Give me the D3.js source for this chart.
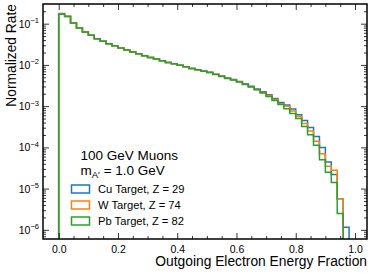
<!DOCTYPE html>
<html>
<head>
<meta charset="utf-8">
<script src="https://cdn.jsdelivr.net/npm/d3@7"></script>
<style>
  body { margin: 0; background: #fff; }
  svg { display: block; font-family: "Liberation Sans", Arial, sans-serif; }
</style>
</head>
<body>
<div id="chart"></div>
<script>

/////////// DATA ******************************************
// bin edges go 0.00 .. 1.00 in steps of 0.02 (50 bins)
var binEdges = [0.00, 0.02, 0.04, 0.06, 0.08, 0.10, 0.12, 0.14, 0.16, 0.18,
  0.20, 0.22, 0.24, 0.26, 0.28, 0.30, 0.32, 0.34, 0.36, 0.38,
  0.40, 0.42, 0.44, 0.46, 0.48, 0.50, 0.52, 0.54, 0.56, 0.58,
  0.60, 0.62, 0.64, 0.66, 0.68, 0.70, 0.72, 0.74, 0.76, 0.78,
  0.80, 0.82, 0.84, 0.86, 0.88, 0.90, 0.92, 0.94, 0.96, 0.98, 1.00];

var cuRate = [0.176, 0.151, 0.104, 0.0785, 0.0628, 0.0521, 0.0433, 0.0373, 0.0327, 0.0293,
  0.0257, 0.0230, 0.0205, 0.0187, 0.0167, 0.0152, 0.0139, 0.0126, 0.0115, 0.0107,
  0.00975, 0.00904, 0.00824, 0.00764, 0.00712, 0.00660, 0.00595, 0.00535, 0.00480, 0.00440,
  0.00395, 0.00348, 0.00303, 0.00262, 0.00224, 0.00188, 0.00154, 0.00123, 0.00106, 0.00085,
  0.000618, 0.00045, 0.000304, 0.000184, 0.000100, 0.000044, 0.000022, 0.0000057, 0.00000115, 0];

var wRate = [0.172, 0.150, 0.104, 0.0785, 0.0628, 0.0521, 0.0433, 0.0373, 0.0327, 0.0293,
  0.0257, 0.0230, 0.0205, 0.0187, 0.0167, 0.0152, 0.0139, 0.0126, 0.0115, 0.0107,
  0.00975, 0.00904, 0.00824, 0.00764, 0.00700, 0.00655, 0.00590, 0.00530, 0.00475, 0.00435,
  0.00390, 0.00342, 0.00296, 0.00255, 0.00215, 0.00180, 0.00145, 0.00115, 0.00100, 0.00076,
  0.00056, 0.00038, 0.00025, 0.00014, 0.000070, 0.000035, 0.000028, 0.0000057, 0, 0];

var pbRate = [0.170, 0.150, 0.104, 0.0785, 0.0628, 0.0521, 0.0433, 0.0373, 0.0327, 0.0293,
  0.0257, 0.0230, 0.0205, 0.0187, 0.0167, 0.0152, 0.0139, 0.0126, 0.0115, 0.0107,
  0.00975, 0.00904, 0.00824, 0.00764, 0.00697, 0.00650, 0.00589, 0.00527, 0.00471, 0.00430,
  0.00384, 0.00336, 0.00290, 0.00250, 0.00207, 0.00172, 0.00138, 0.00110, 0.000865, 0.000665,
  0.000504, 0.000322, 0.000202, 0.000112, 0.000050, 0.000025, 0.000014, 0.0000025, 0, 0];

var seriesNames = ["Cu Target, Z = 29", "W Target, Z = 74", "Pb Target, Z = 82"];
var seriesColors = ["#1f77b4", "#ff7f0e", "#2ca02c"];
var seriesRates = [cuRate, wRate, pbRate];

var xTickValues = [0.0, 0.2, 0.4, 0.6, 0.8, 1.0];
var yTickPowers = [-1, -2, -3, -4, -5, -6];

/////////// SET-UP SVG AREA ******************************************
var svgWidth = 374;
var svgHeight = 273;

var chartMargin = { top: 4, right: 7, bottom: 34, left: 43 };
var chartWidth = svgWidth - chartMargin.left - chartMargin.right;
var chartHeight = svgHeight - chartMargin.top - chartMargin.bottom;

var svg = d3.select("#chart")
  .append("svg")
  .attr("width", svgWidth)
  .attr("height", svgHeight);

var chartGroup = svg.append("g")
  .attr("transform", `translate(${chartMargin.left}, ${chartMargin.top})`);

/////////// SCALES ******************************************
var xScale = d3.scaleLinear()
  .domain([-0.053, 1.0405])
  .range([0, chartWidth]);

var yScale = d3.scaleLog()
  .domain([6e-7, 0.3])
  .range([chartHeight, 0]);

/////////// HISTOGRAM STEPS ******************************************
svg.append("defs").append("clipPath")
  .attr("id", "plotClip")
  .append("rect")
  .attr("width", chartWidth)
  .attr("height", chartHeight);

function yPos(v) {
  return v > 0 ? yScale(v) : chartHeight + 30;
}

function stepPoints(rates) {
  var pts = [[xScale(binEdges[0]), chartHeight + 30]];
  rates.forEach(function(v, i) {
    pts.push([xScale(binEdges[i]), yPos(v)]);
    pts.push([xScale(binEdges[i + 1]), yPos(v)]);
  });
  pts.push([xScale(binEdges[binEdges.length - 1]), chartHeight + 30]);
  return pts;
}

var line = d3.line();

var histGroup = chartGroup.append("g").attr("clip-path", "url(#plotClip)");

seriesRates.forEach(function(rates, i) {
  histGroup.append("path")
    .attr("d", line(stepPoints(rates)))
    .attr("fill", "none")
    .attr("stroke", seriesColors[i])
    .attr("stroke-width", 1.5)
    .attr("stroke-linejoin", "miter");
});

/////////// AXES ******************************************
var majorLen = 6, minorLen = 3;

var xMinor = d3.range(0, 21).map(function(k) { return k * 0.05; })
  .filter(function(v) { return xTickValues.every(function(t) { return Math.abs(t - v) > 1e-6; }); });

var yMinor = [];
[-7, -6, -5, -4, -3, -2, -1].forEach(function(p) {
  for (var k = 2; k <= 9; k++) {
    var v = k * Math.pow(10, p);
    if (v > 6e-7 && v < 0.3) yMinor.push(v);
  }
});
var yMajor = yTickPowers.map(function(p) { return Math.pow(10, p); });

// bottom + top
chartGroup.append("g")
  .attr("transform", `translate(0, ${chartHeight})`)
  .call(d3.axisBottom(xScale).tickValues(xTickValues).tickSize(-majorLen).tickPadding(7).tickFormat(d3.format(".1f")));
chartGroup.append("g")
  .attr("transform", `translate(0, ${chartHeight})`)
  .call(d3.axisBottom(xScale).tickValues(xMinor).tickSize(-minorLen).tickFormat(""));
chartGroup.append("g")
  .call(d3.axisTop(xScale).tickValues(xTickValues).tickSize(-majorLen).tickFormat(""));
chartGroup.append("g")
  .call(d3.axisTop(xScale).tickValues(xMinor).tickSize(-minorLen).tickFormat(""));

// left + right
var yAxisLeft = chartGroup.append("g")
  .call(d3.axisLeft(yScale).tickValues(yMajor).tickSize(-majorLen).tickPadding(5).tickFormat(""));
chartGroup.append("g")
  .call(d3.axisLeft(yScale).tickValues(yMinor).tickSize(-minorLen).tickFormat(""));
chartGroup.append("g")
  .attr("transform", `translate(${chartWidth}, 0)`)
  .call(d3.axisRight(yScale).tickValues(yMajor).tickSize(-majorLen).tickFormat(""));
chartGroup.append("g")
  .attr("transform", `translate(${chartWidth}, 0)`)
  .call(d3.axisRight(yScale).tickValues(yMinor).tickSize(-minorLen).tickFormat(""));

chartGroup.selectAll(".domain").remove();
chartGroup.selectAll(".tick line").attr("stroke", "#000").attr("stroke-width", 0.8);
chartGroup.selectAll(".tick text")
  .attr("fill", "#000")
  .attr("font-family", "Liberation Sans, Arial, sans-serif")
  .attr("font-size", "10.5px");

// y tick labels with superscript
yTickPowers.forEach(function(p) {
  var t = chartGroup.append("text")
    .attr("x", -4)
    .attr("y", yScale(Math.pow(10, p)) + 4)
    .attr("text-anchor", "end")
    .attr("font-size", "10.5px")
    .attr("fill", "#000");
  t.append("tspan").text("10");
  t.append("tspan").attr("font-size", "7.5px").attr("dy", -4.5).text("\u2212" + (-p));
});

// frame
chartGroup.append("rect")
  .attr("width", chartWidth)
  .attr("height", chartHeight)
  .attr("fill", "none")
  .attr("stroke", "#000")
  .attr("stroke-width", 1.5);

////// AXIS LABELS ***********************************************
svg.append("text")
  .attr("x", chartMargin.left + chartWidth)
  .attr("y", 266)
  .attr("text-anchor", "end")
  .attr("font-size", "13.8px")
  .text("Outgoing Electron Energy Fraction");

svg.append("text")
  .attr("transform", `translate(15.5, ${chartMargin.top}) rotate(-90)`)
  .attr("text-anchor", "end")
  .attr("font-size", "13.8px")
  .text("Normalized Rate");

////// LEGEND ***********************************************
var legend = svg.append("g");

legend.append("text")
  .attr("x", 80.5)
  .attr("y", 160)
  .attr("font-size", "13.5px")
  .text("100 GeV Muons");

var mText = legend.append("text")
  .attr("x", 80.5)
  .attr("y", 175)
  .attr("font-size", "13.5px");
mText.append("tspan").text("m");
mText.append("tspan").attr("font-size", "9.5px").attr("dy", 3).text("A\u2032");
mText.append("tspan").attr("dy", -3).text(" = 1.0 GeV");

seriesNames.forEach(function(name, i) {
  var yRow = 189 + i * 16;
  legend.append("rect")
    .attr("x", 71.5)
    .attr("y", yRow - 4)
    .attr("width", 18)
    .attr("height", 8)
    .attr("fill", "none")
    .attr("stroke", seriesColors[i])
    .attr("stroke-width", 1.5);
  legend.append("text")
    .attr("x", 98)
    .attr("y", yRow + 4)
    .attr("font-size", "11.2px")
    .text(name);
});

</script>
</body>
</html>
